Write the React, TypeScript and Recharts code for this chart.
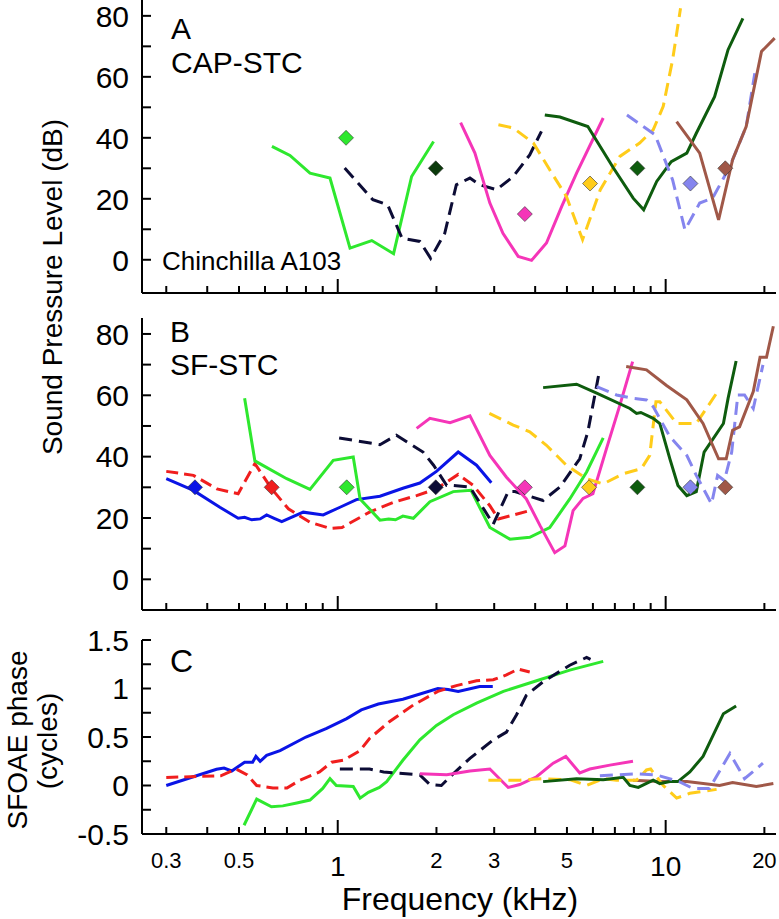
import { ComposedChart, Line, Scatter, XAxis, YAxis } from 'recharts';

const FONT = '"Liberation Sans", Arial, Helvetica, sans-serif';

// axis ticks
const freqTicks = [0.3, 0.4, 0.5, 0.6, 0.7, 0.8, 0.9, 1, 2, 3, 4, 5, 6, 7, 8, 9, 10, 20];
const freqMajor = [1, 10];
const freqLabels = [0.3, 0.5, 1, 2, 3, 5, 10, 20];
const splTicks = [0, 10, 20, 30, 40, 50, 60, 70, 80];
const splLabels = [0, 20, 40, 60, 80];
const phaseTicks = [-0.5, -0.25, 0, 0.25, 0.5, 0.75, 1, 1.25, 1.5];
const phaseLabels = [-0.5, 0, 0.5, 1, 1.5];

// colours of the probe frequencies
const C_BLUE = '#0a14e6';
const C_RED = '#f01e1e';
const C_LGREEN = '#2ee82e';
const C_NAVY = '#0c0c35';
const C_PINK = '#f535b8';
const C_YELLOW = '#ffcc1a';
const C_DGREEN = '#0e5c0e';
const C_LBLUE = '#8585ee';
const C_BROWN = '#a05848';

// A: CAP-STC  [kHz, dB SPL]
const capGreen = [[0.63, 37.2], [0.715, 34.2], [0.823, 28.4], [0.947, 26.8], [1.09, 3.8], [1.27, 6.3], [1.48, 2.0], [1.68, 27.3], [1.96, 38.8]];
const capNavy = [[1.05, 30.1], [1.28, 19.7], [1.42, 18], [1.57, 7.1], [1.78, 6.0], [1.92, 0.5], [2.12, 8.7], [2.3, 24.6], [2.53, 26.8], [2.71, 24.6], [3.05, 23.0], [3.43, 27.3], [3.85, 34.4], [4.18, 42.1]];
const capPink = [[2.37, 45], [2.62, 35], [2.91, 18.6], [3.19, 8.7], [3.55, 1.1], [3.9, -0.2], [4.33, 5.5], [4.82, 17.5], [5.35, 28.4], [6.45, 46.5]];
const capYellow = [[3.09, 44.3], [3.43, 43.2], [3.95, 38.3], [4.43, 29.5], [4.98, 20.8], [5.58, 6.6], [6.32, 23], [7.25, 33.9], [8.33, 38.3], [9.16, 42.6], [9.83, 50.3], [10.5, 65.6], [11.1, 82.5]];
const capDGreen = [[4.28, 47.5], [4.76, 46.8], [5.79, 43.7], [6.93, 30.1], [7.96, 20.2], [8.57, 16.4], [9.39, 25.7], [10.4, 32.2], [11.6, 35], [12.4, 41.5], [14.1, 53.5], [15.5, 68.9], [17.2, 79.2]];
const capLBlue = [[7.62, 47.5], [9.28, 41], [10.5, 26.2], [11.45, 9.8], [12.7, 18.6], [13.9, 20.2], [15.7, 30.6], [17.6, 43.7], [18.7, 61.2]];
const capBrown = [[10.8, 45.3], [12.7, 35], [14.5, 13.1], [16.0, 32.8], [17.6, 43.7], [19.6, 68.3], [21.5, 72.7]];
const capProbes: [number, number, string][] = [[1.06, 40, C_LGREEN], [1.99, 30, '#0b3a0b'], [3.72, 15, C_PINK], [5.88, 25, C_YELLOW], [8.2, 30, C_DGREEN], [11.9, 25, C_LBLUE], [15.2, 30, C_BROWN]];

// B: SF-STC  [kHz, dB SPL]
const sfBlue = [[0.3, 32.8], [0.363, 29.0], [0.437, 23.5], [0.497, 19.9], [0.52, 20.2], [0.547, 19.4], [0.58, 19.7], [0.607, 21], [0.64, 19.9], [0.675, 18.8], [0.785, 21.9], [0.903, 21], [1.016, 23.5], [1.14, 26], [1.345, 27.1], [1.58, 29.7], [1.78, 31.4], [2.0, 35.2], [2.33, 41.5], [2.65, 37.2], [2.94, 31.5]];
const sfRed = [[0.3, 35.2], [0.363, 33.9], [0.428, 29.5], [0.497, 27.9], [0.559, 37.7], [0.629, 29.5], [0.707, 23], [0.823, 18.6], [0.947, 16.6], [1.03, 16.9], [1.25, 21.9], [1.48, 25.1], [1.74, 27.3], [2.0, 29.5], [2.33, 34.2], [2.59, 30.6], [2.91, 24], [3.09, 19.7], [3.85, 22.4]];
const sfGreen = [[0.52, 59], [0.559, 38.6], [0.699, 32.8], [0.823, 29.3], [0.969, 38.8], [1.115, 39.9], [1.17, 26.2], [1.345, 19.3], [1.43, 19.7], [1.5, 19.4], [1.58, 20.6], [1.7, 19.9], [1.91, 25.3], [2.25, 28.6], [2.55, 29.0], [2.91, 16.9], [3.35, 13.1], [3.85, 13.7], [4.43, 16.9], [5.1, 26.2], [5.74, 35], [6.45, 46.1]];
const sfNavy = [[1.01, 46.1], [1.345, 43.9], [1.51, 47], [1.82, 41.5], [1.96, 37.2], [2.15, 30.6], [2.25, 30.6], [2.53, 30.1], [2.98, 18], [3.31, 28.6], [3.47, 28.6], [4.23, 25.7], [4.76, 30.1], [5.47, 39.3], [5.79, 48.1], [6.25, 66.7]];
const sfPink = [[1.74, 49.2], [1.91, 52.5], [2.2, 51.1], [2.53, 53.3], [2.91, 40.4], [3.27, 33.3], [3.76, 26.2], [4.14, 17.5], [4.59, 8.7], [4.93, 10.9], [5.22, 22.4], [5.6, 26.4], [6.0, 27.9], [6.6, 42.6], [7.25, 56.8], [7.93, 71]];
const sfYellow = [[2.9, 54.1], [3.43, 50.3], [3.85, 48.1], [4.33, 43.7], [4.98, 37.2], [5.74, 32.8], [6.45, 31.1], [7.42, 34.4], [8.43, 36.1], [8.94, 40.4], [9.34, 57.9], [9.6, 57.9], [10.8, 50.8], [12.4, 50.8], [14.3, 60.7]];
const sfDGreen = [[4.23, 62.5], [5.35, 63.6], [6.16, 60.7], [7.78, 55.7], [8.15, 54.1], [8.4, 54.4], [9.16, 52.5], [9.6, 50.8], [10.3, 39.3], [10.9, 30.6], [11.6, 27.3], [12.4, 28.6], [13.1, 41.5], [15.0, 50.8], [15.5, 59], [16.4, 71.2]];
const sfLBlue = [[6.16, 62.8], [7.08, 60.1], [7.96, 59], [8.74, 58.5], [9.16, 56.3], [10.3, 46.5], [11.6, 40.4], [12.4, 33.9], [13.8, 24.6], [14.4, 33.9], [15.1, 32.2], [15.9, 41.5], [16.6, 60.1], [17.4, 60.1], [18.5, 55.7], [19.8, 69.9]];
const sfBrown = [[7.58, 69.4], [8.74, 68.3], [10.06, 63.2], [11.6, 58.5], [13.0, 50.8], [14.5, 39.3], [15.3, 39.3], [16.0, 48.6], [16.8, 49.7], [18.5, 61.2], [19.4, 72.4], [20.3, 72.4], [21.3, 82.5]];
const sfProbes: [number, number, string][] = [[0.367, 30, C_BLUE], [0.629, 30, C_RED], [1.065, 30, C_LGREEN], [1.99, 30, C_NAVY], [3.72, 30, C_PINK], [5.84, 30, C_YELLOW], [8.2, 30, C_DGREEN], [11.9, 30, C_LBLUE], [15.2, 30, C_BROWN]];

// C: SFOAE phase  [kHz, cycles]
const phBlue = [[0.3, 0], [0.427, 0.168], [0.45, 0.18], [0.475, 0.15], [0.52, 0.24], [0.55, 0.24], [0.563, 0.3], [0.58, 0.25], [0.607, 0.31], [0.667, 0.36], [0.8, 0.5], [0.925, 0.59], [1.065, 0.69], [1.18, 0.78], [1.33, 0.84], [1.58, 0.89], [2.02, 1.0], [2.17, 0.99], [2.33, 0.97], [2.71, 1.02], [2.97, 1.02]];
const phRed = [[0.3, 0.083], [0.44, 0.1], [0.49, 0.17], [0.53, 0.11], [0.566, 0.0], [0.634, -0.025], [0.7, -0.025], [0.767, 0.055], [0.88, 0.14], [0.958, 0.24], [1.04, 0.26], [1.17, 0.36], [1.25, 0.485], [1.44, 0.66], [1.7, 0.83], [2.02, 0.97], [2.3, 1.03], [2.65, 1.08], [2.98, 1.09], [3.27, 1.14], [3.55, 1.2], [3.85, 1.17]];
const phGreen = [[0.518, -0.41], [0.566, -0.14], [0.628, -0.22], [0.68, -0.21], [0.75, -0.18], [0.823, -0.15], [0.9, -0.03], [0.947, 0.07], [0.99, 0.0], [1.115, -0.01], [1.17, -0.13], [1.24, -0.07], [1.34, -0.02], [1.41, 0.04], [1.58, 0.26], [1.78, 0.47], [2.0, 0.62], [2.25, 0.73], [2.65, 0.85], [3.2, 0.97], [4.04, 1.08], [5.1, 1.19], [6.45, 1.28]];
const phNavy = [[1.015, 0.17], [1.25, 0.17], [1.38, 0.14], [1.78, 0.11], [1.91, 0.01], [2.07, 0.0], [2.2, 0.09], [2.53, 0.28], [2.98, 0.47], [3.27, 0.55], [3.51, 0.73], [3.76, 0.93], [4.23, 1.07], [5.1, 1.24], [5.74, 1.32], [5.9, 1.3]];
const phPink = [[1.78, 0.12], [2.15, 0.11], [2.53, 0.15], [2.91, 0.17], [3.31, -0.02], [3.59, 0.01], [4.04, 0.09], [4.54, 0.23], [4.96, 0.3], [5.47, 0.13], [5.87, 0.17], [6.76, 0.21], [7.95, 0.25]];
const phYellow = [[2.88, 0.055], [3.59, 0.055], [4.2, 0.07], [5.1, 0.06], [5.74, 0.0], [6.45, 0.07], [7.08, 0.055], [8.15, 0.055], [8.74, 0.16], [9.0, 0.17], [9.83, 0.0], [10.8, -0.13], [11.85, -0.08], [14.3, -0.04]];
const phDGreen = [[4.23, 0.04], [5.35, 0.07], [6.45, 0.06], [7.42, 0.085], [7.78, 0.0], [8.25, -0.02], [9.16, 0.055], [9.6, 0.02], [10.3, 0.04], [10.9, 0.04], [11.85, 0.14], [13.0, 0.3], [15.0, 0.74], [16.4, 0.82]];
const phLBlue = [[6.3, 0.1], [8.15, 0.12], [9.35, 0.11], [11.0, 0.04], [12.1, -0.03], [13.6, -0.03], [15.7, 0.33], [17.4, 0.07], [19.8, 0.23]];
const phBrown = [[7.95, 0.055], [9.6, 0.04], [11.6, 0.04], [14.6, 0.0], [16.0, 0.03], [18.9, -0.01], [21.3, 0.02]];

const FREQ_DOMAIN = [0.253, 21.7];

const pts = (a: number[][]) => a.map(([f, v]) => ({ f, v }));

type Curve = { d: number[][]; c: string; dash?: string };

const capCurves: Curve[] = [
  { d: capGreen, c: C_LGREEN },
  { d: capNavy, c: C_NAVY, dash: '13 7' },
  { d: capPink, c: C_PINK },
  { d: capYellow, c: C_YELLOW, dash: '13 7' },
  { d: capDGreen, c: C_DGREEN },
  { d: capLBlue, c: C_LBLUE, dash: '13 7' },
  { d: capBrown, c: C_BROWN },
];
const sfCurves: Curve[] = [
  { d: sfBlue, c: C_BLUE },
  { d: sfRed, c: C_RED, dash: '12 6' },
  { d: sfGreen, c: C_LGREEN },
  { d: sfNavy, c: C_NAVY, dash: '13 7' },
  { d: sfPink, c: C_PINK },
  { d: sfYellow, c: C_YELLOW, dash: '13 7' },
  { d: sfDGreen, c: C_DGREEN },
  { d: sfLBlue, c: C_LBLUE, dash: '13 7' },
  { d: sfBrown, c: C_BROWN },
];
const phCurves: Curve[] = [
  { d: phBlue, c: C_BLUE },
  { d: phRed, c: C_RED, dash: '12 6' },
  { d: phGreen, c: C_LGREEN },
  { d: phNavy, c: C_NAVY, dash: '13 7' },
  { d: phPink, c: C_PINK },
  { d: phBrown, c: C_BROWN },
  { d: phYellow, c: C_YELLOW, dash: '13 7' },
  { d: phDGreen, c: C_DGREEN },
  { d: phLBlue, c: C_LBLUE, dash: '13 7' },
];

// ticks drawn inward, labels outside
const xTick = (labels: boolean) => (props: any) => {
  const { x, y, payload } = props;
  const v = payload.value;
  const major = freqMajor.includes(v);
  const show = labels && freqLabels.includes(v);
  return (
    <g>
      <line x1={x} x2={x} y1={y} y2={y - (major ? 14 : 7)} stroke="#000" strokeWidth={2} />
      {show && (
        <text x={x} y={y + (major ? 42 : 34)} textAnchor="middle" fontSize={major ? 28 : 22} fontFamily={FONT} fill="#000">
          {v}
        </text>
      )}
    </g>
  );
};

const yTick = (labels: number[]) => (props: any) => {
  const { x, y, payload } = props;
  const v = payload.value;
  return (
    <g>
      <line x1={x} x2={x + 9} y1={y} y2={y} stroke="#000" strokeWidth={2} />
      {labels.includes(v) && (
        <text x={x - 13} y={y} dy="0.36em" textAnchor="end" fontSize={30} fontFamily={FONT} fill="#000">
          {v}
        </text>
      )}
    </g>
  );
};

const diamond = (color: string) => (props: any) => {
  const { cx, cy } = props;
  const r = 7.5;
  return (
    <polygon
      points={`${cx},${cy - r} ${cx + r},${cy} ${cx},${cy + r} ${cx - r},${cy}`}
      fill={color}
      stroke="#333"
      strokeWidth={0.6}
    />
  );
};

function Panel({
  top, height, marginTop, xHeight, yDomain, yTicks, yLabels, curves, probes, xLabels,
}: {
  top: number; height: number; marginTop: number; xHeight: number;
  yDomain: number[]; yTicks: number[]; yLabels: number[];
  curves: Curve[]; probes: [number, number, string][]; xLabels: boolean;
}) {
  return (
    <div style={{ position: 'absolute', left: 0, top }}>
      <ComposedChart width={779} height={height} margin={{ top: marginTop, right: 3, bottom: 0, left: 0 }}>
        <XAxis
          dataKey="f"
          type="number"
          scale="log"
          domain={FREQ_DOMAIN}
          allowDataOverflow
          ticks={freqTicks}
          interval={0}
          height={xHeight}
          tickSize={0}
          tickMargin={0}
          tick={xTick(xLabels)}
          axisLine={{ stroke: '#000', strokeWidth: 2 }}
        />
        <YAxis
          type="number"
          domain={yDomain}
          allowDataOverflow
          ticks={yTicks}
          interval={0}
          width={142}
          tickSize={0}
          tickMargin={0}
          tick={yTick(yLabels)}
          axisLine={{ stroke: '#000', strokeWidth: 2 }}
        />
        {curves.map((c, i) => (
          <Line
            key={i}
            data={pts(c.d)}
            dataKey="v"
            type="linear"
            stroke={c.c}
            strokeWidth={3}
            strokeDasharray={c.dash}
            dot={false}
            activeDot={false}
            isAnimationActive={false}
          />
        ))}
        {probes.map(([f, v, color], i) => (
          <Scatter
            key={`p${i}`}
            data={[{ f, v }]}
            dataKey="v"
            fill={color}
            shape={diamond(color)}
            isAnimationActive={false}
          />
        ))}
      </ComposedChart>
    </div>
  );
}

export default function App() {
  const txt = { fontFamily: FONT, fill: '#000' };
  return (
    <div style={{ position: 'absolute', left: 0, top: 0, width: 779, height: 919, background: '#fff' }}>
      <Panel top={0} height={300} marginTop={0} xHeight={7} yDomain={[-10.9, 85.2]}
        yTicks={splTicks} yLabels={splLabels} curves={capCurves} probes={capProbes} xLabels={false} />
      <Panel top={300} height={320} marginTop={18} xHeight={10} yDomain={[-10, 85.2]}
        yTicks={splTicks} yLabels={splLabels} curves={sfCurves} probes={sfProbes} xLabels={false} />
      <Panel top={620} height={299} marginTop={20} xHeight={85} yDomain={[-0.5, 1.5]}
        yTicks={phaseTicks} yLabels={phaseLabels} curves={phCurves} probes={[]} xLabels={true} />
      <svg width={779} height={919} style={{ position: 'absolute', left: 0, top: 0, pointerEvents: 'none' }}>
        <text x={171} y={39} fontSize={30} {...txt}>A</text>
        <text x={171} y={73} fontSize={30} {...txt}>CAP-STC</text>
        <text x={162} y={270} fontSize={26} {...txt}>Chinchilla A103</text>
        <text x={170} y={342} fontSize={30} {...txt}>B</text>
        <text x={170} y={375} fontSize={30} {...txt}>SF-STC</text>
        <text x={170} y={672} fontSize={32} {...txt}>C</text>
        <text transform="translate(62,287) rotate(-90)" textAnchor="middle" fontSize={28} {...txt}>
          Sound Pressure Level (dB)
        </text>
        <text transform="translate(27,740) rotate(-90)" textAnchor="middle" fontSize={28} {...txt}>
          SFOAE phase
        </text>
        <text transform="translate(57,741) rotate(-90)" textAnchor="middle" fontSize={28} {...txt}>
          (cycles)
        </text>
        <text x={460} y={910} textAnchor="middle" fontSize={32} {...txt}>Frequency (kHz)</text>
      </svg>
    </div>
  );
}
